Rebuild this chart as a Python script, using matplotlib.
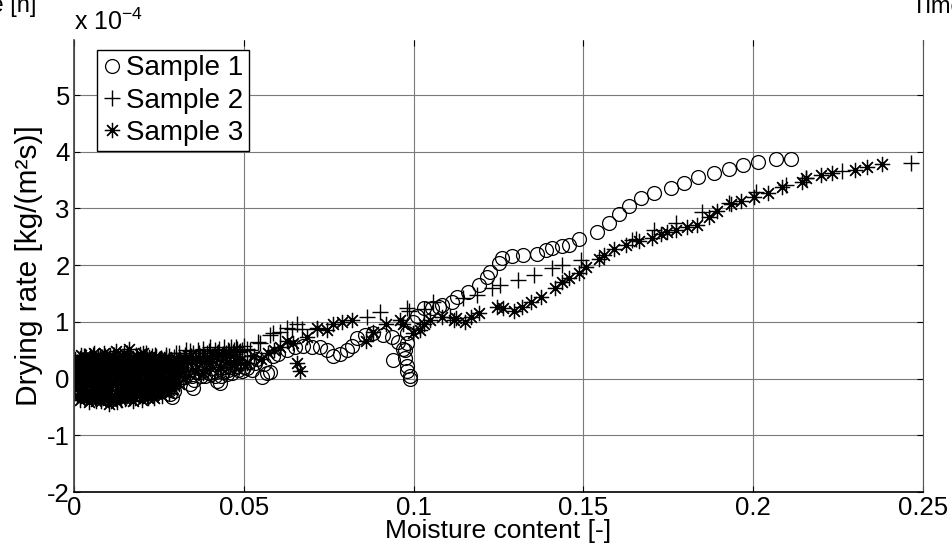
import matplotlib
matplotlib.use("Agg")
import matplotlib.pyplot as plt

plt.rcParams['font.family'] = ['Liberation Sans', 'DejaVu Sans']
plt.rcParams['mathtext.fontset'] = 'custom'
plt.rcParams['mathtext.rm'] = 'Liberation Sans'
plt.rcParams['mathtext.it'] = 'Liberation Sans'

# Drying rate values are in units of 1e-4 kg/(m^2 s); (moisture content, drying rate)
sample1 = [
    (0.0004, 0.10), (0.0010, -0.15), (0.0016, 0.25), (0.0022, -0.05), (0.0028, 0.18), (0.0034, -0.20),
    (0.0040, 0.05), (0.0046, 0.28), (0.0052, -0.12), (0.0058, 0.15), (0.0064, -0.25), (0.0070, 0.00),
    (0.0076, 0.22), (0.0082, -0.18), (0.0088, 0.10), (0.0094, -0.08), (0.0100, 0.30), (0.0106, -0.22),
    (0.0112, 0.05), (0.0118, 0.18), (0.0124, -0.15), (0.0130, 0.12), (0.0136, -0.05), (0.0142, 0.25),
    (0.0148, -0.20), (0.0154, 0.08), (0.0160, -0.10), (0.0166, 0.20), (0.0172, 0.02), (0.0178, -0.18),
    (0.0184, 0.15), (0.0190, -0.06), (0.0196, 0.22), (0.0202, -0.12), (0.0208, 0.06), (0.0214, 0.18),
    (0.0220, -0.08), (0.0226, 0.12), (0.0232, -0.15), (0.0238, 0.05), (0.0244, 0.20), (0.0250, -0.05),
    (0.0256, 0.10), (0.0262, -0.20), (0.0268, 0.15), (0.0275, -0.10), (0.0282, -0.28), (0.0288, -0.32),
    (0.0295, -0.22), (0.0302, 0.05), (0.0310, 0.15), (0.0318, 0.10), (0.0326, 0.20), (0.0334, 0.08),
    (0.0342, -0.10), (0.0350, -0.16), (0.0358, 0.12), (0.0366, 0.18), (0.0374, 0.05), (0.0382, 0.15),
    (0.0390, 0.22), (0.0398, 0.10), (0.0406, 0.18), (0.0414, 0.05), (0.0422, -0.05), (0.0430, -0.07),
    (0.0438, 0.12), (0.0446, 0.20), (0.0454, 0.15), (0.0462, 0.25), (0.0470, 0.18), (0.0478, 0.22),
    (0.0486, 0.28), (0.0494, 0.14), (0.0509, 0.19), (0.0532, 0.27), (0.0553, 0.02), (0.0568, 0.09),
    (0.0576, 0.11), (0.0600, 0.44), (0.0626, 0.50), (0.0650, 0.55), (0.0674, 0.58), (0.0700, 0.55),
    (0.0724, 0.55), (0.0744, 0.50), (0.0762, 0.39), (0.0782, 0.44), (0.0803, 0.50), (0.0818, 0.58),
    (0.0832, 0.71), (0.0856, 0.76), (0.0879, 0.81), (0.0909, 0.76), (0.0935, 0.73), (0.0938, 0.32),
    (0.0953, 0.64), (0.0968, 0.53), (0.0976, 0.50), (0.0974, 0.37), (0.0980, 0.23), (0.0982, 0.14),
    (0.0988, 0.04), (0.0988, 0.00), (0.0980, 0.62), (0.0982, 0.80), (0.0997, 0.99), (0.1009, 1.11),
    (0.1032, 1.24), (0.1053, 1.24), (0.1076, 1.26), (0.1085, 1.29), (0.1112, 1.35), (0.1129, 1.43),
    (0.1159, 1.52), (0.1194, 1.65), (0.1215, 1.79), (0.1224, 1.88), (0.1250, 2.04), (0.1259, 2.12),
    (0.1291, 2.16), (0.1321, 2.18), (0.1362, 2.19), (0.1391, 2.27), (0.1409, 2.30), (0.1438, 2.34),
    (0.1459, 2.35), (0.1488, 2.46), (0.1540, 2.58), (0.1576, 2.74), (0.1606, 2.90), (0.1635, 3.04),
    (0.1670, 3.19), (0.1709, 3.27), (0.1759, 3.36), (0.1797, 3.45), (0.1838, 3.56), (0.1885, 3.63),
    (0.1929, 3.70), (0.1971, 3.76), (0.2015, 3.82), (0.2068, 3.87), (0.2112, 3.88),
]
sample1_dense = [
    (0.0007, -0.25), (0.0013, 0.18), (0.0019, -0.08), (0.0025, 0.30), (0.0031, 0.00), (0.0037, -0.28),
    (0.0043, 0.15), (0.0049, -0.02), (0.0055, 0.25), (0.0061, -0.18), (0.0067, 0.10), (0.0073, -0.28),
    (0.0079, 0.05), (0.0085, 0.28), (0.0091, -0.20), (0.0097, 0.15), (0.0103, -0.02), (0.0109, 0.22),
    (0.0115, -0.28), (0.0121, 0.02), (0.0127, 0.25), (0.0133, -0.22), (0.0139, 0.15), (0.0145, -0.08),
    (0.0151, 0.28), (0.0157, -0.25), (0.0163, 0.12), (0.0169, -0.05), (0.0175, 0.25), (0.0181, -0.12),
    (0.0187, 0.08), (0.0193, -0.22), (0.0199, 0.18), (0.0205, 0.00), (0.0211, -0.18), (0.0217, 0.25),
    (0.0223, -0.12), (0.0229, 0.05), (0.0235, 0.22), (0.0241, -0.10), (0.0247, 0.12), (0.0253, -0.22),
    (0.0259, 0.18), (0.0265, 0.00), (0.0271, 0.10), (0.0278, 0.20), (0.0285, -0.05), (0.0298, 0.12),
    (0.0306, -0.05), (0.0314, 0.22), (0.0322, 0.02), (0.0330, 0.15), (0.0338, 0.25), (0.0346, 0.05),
    (0.0354, -0.02), (0.0362, 0.25), (0.0370, 0.12), (0.0378, 0.20), (0.0386, 0.05), (0.0394, 0.28),
    (0.0402, 0.08), (0.0410, 0.25), (0.0418, 0.12), (0.0426, 0.20), (0.0434, 0.05), (0.0442, 0.28),
    (0.0450, 0.08), (0.0458, 0.20), (0.0466, 0.10), (0.0474, 0.30), (0.0482, 0.15), (0.0490, 0.25),
    (0.0500, 0.20), (0.0515, 0.30), (0.0525, 0.15), (0.0540, 0.35), (0.0560, 0.25), (0.0585, 0.40),
    (0.0001, 0.00), (0.0009, 0.20), (0.0017, -0.20), (0.0026, 0.08), (0.0035, 0.22), (0.0044, -0.15),
    (0.0053, 0.05), (0.0062, 0.20), (0.0071, -0.12), (0.0080, 0.15), (0.0089, -0.25), (0.0098, 0.05),
    (0.0107, 0.25), (0.0116, -0.10), (0.0125, 0.10), (0.0134, 0.20), (0.0143, -0.18), (0.0152, 0.02),
    (0.0161, 0.22), (0.0170, -0.20), (0.0179, 0.10), (0.0188, 0.25), (0.0197, -0.15), (0.0206, 0.12),
    (0.0215, -0.02), (0.0224, 0.20), (0.0233, -0.20), (0.0242, 0.08), (0.0251, 0.18), (0.0260, -0.10),
    (0.0269, 0.05),
]

sample2 = [
    (0.0005, 0.20), (0.0012, 0.05), (0.0019, 0.35), (0.0026, -0.10), (0.0033, 0.25), (0.0040, 0.10),
    (0.0047, 0.40), (0.0054, 0.00), (0.0061, 0.30), (0.0068, 0.15), (0.0075, -0.05), (0.0082, 0.38),
    (0.0089, 0.20), (0.0096, 0.05), (0.0103, 0.32), (0.0110, 0.12), (0.0117, 0.42), (0.0124, 0.00),
    (0.0131, 0.28), (0.0138, 0.18), (0.0145, 0.36), (0.0152, 0.08), (0.0159, 0.25), (0.0166, 0.40),
    (0.0173, 0.12), (0.0180, 0.30), (0.0187, 0.20), (0.0194, 0.38), (0.0201, 0.05), (0.0208, 0.26),
    (0.0215, 0.34), (0.0222, 0.15), (0.0229, 0.40), (0.0236, 0.22), (0.0243, 0.30), (0.0250, 0.10),
    (0.0257, 0.36), (0.0264, 0.25), (0.0271, 0.42), (0.0278, 0.18), (0.0285, 0.32), (0.0292, 0.28),
    (0.0299, 0.45), (0.0306, 0.20), (0.0313, 0.35), (0.0320, 0.30), (0.0327, 0.42), (0.0334, 0.25),
    (0.0341, 0.48), (0.0348, 0.32), (0.0355, 0.38), (0.0362, 0.28), (0.0369, 0.45), (0.0376, 0.35),
    (0.0383, 0.40), (0.0390, 0.30), (0.0397, 0.48), (0.0404, 0.36), (0.0411, 0.42), (0.0418, 0.34),
    (0.0425, 0.46), (0.0432, 0.38), (0.0439, 0.44), (0.0446, 0.40), (0.0453, 0.50), (0.0460, 0.42),
    (0.0467, 0.46), (0.0474, 0.44), (0.0481, 0.52), (0.0488, 0.48), (0.0495, 0.50), (0.0509, 0.53),
    (0.0518, 0.50), (0.0541, 0.64), (0.0547, 0.62), (0.0576, 0.76), (0.0585, 0.80), (0.0606, 0.82),
    (0.0626, 0.90), (0.0641, 0.87), (0.0656, 0.97), (0.0670, 0.87), (0.0715, 0.88), (0.0862, 1.08),
    (0.0900, 1.17), (0.0980, 1.24), (0.0985, 1.20), (0.1030, 1.22), (0.1056, 1.35), (0.1106, 1.08),
    (0.1144, 1.42), (0.1188, 1.47), (0.1232, 1.59), (0.1253, 1.65), (0.1306, 1.73), (0.1356, 1.82),
    (0.1409, 1.95), (0.1438, 2.00), (0.1494, 2.09), (0.1644, 2.44), (0.1656, 2.46), (0.1709, 2.62),
    (0.1774, 2.74), (0.1850, 2.94), (0.1930, 3.10), (0.2009, 3.29), (0.2097, 3.42), (0.2156, 3.54),
    (0.2262, 3.66), (0.2465, 3.80),
]
sample2_dense = [
    (0.0008, 0.30), (0.0015, -0.05), (0.0022, 0.15), (0.0029, 0.40), (0.0036, 0.00), (0.0043, 0.28),
    (0.0050, 0.18), (0.0057, 0.42), (0.0064, 0.05), (0.0071, 0.32), (0.0078, 0.12), (0.0085, 0.25),
    (0.0092, 0.40), (0.0099, 0.15), (0.0106, 0.22), (0.0113, 0.02), (0.0120, 0.35), (0.0127, 0.20),
    (0.0134, 0.40), (0.0141, 0.10), (0.0148, 0.28), (0.0155, 0.45), (0.0162, 0.15), (0.0169, 0.32),
    (0.0176, 0.05), (0.0183, 0.42), (0.0190, 0.25), (0.0197, 0.15), (0.0204, 0.35), (0.0211, 0.45),
    (0.0218, 0.22), (0.0225, 0.30), (0.0232, 0.12), (0.0239, 0.42), (0.0246, 0.20), (0.0253, 0.35),
    (0.0260, 0.15), (0.0267, 0.32), (0.0274, 0.25), (0.0281, 0.40), (0.0288, 0.22), (0.0295, 0.38),
    (0.0302, 0.30), (0.0309, 0.45), (0.0316, 0.25), (0.0323, 0.36), (0.0330, 0.50), (0.0337, 0.30),
    (0.0344, 0.40), (0.0351, 0.45), (0.0358, 0.35), (0.0365, 0.50), (0.0372, 0.40), (0.0379, 0.52),
    (0.0386, 0.38), (0.0393, 0.45), (0.0400, 0.55), (0.0407, 0.40), (0.0414, 0.50), (0.0421, 0.45),
    (0.0428, 0.52), (0.0435, 0.42), (0.0442, 0.55), (0.0449, 0.45), (0.0456, 0.48), (0.0463, 0.55),
    (0.0470, 0.50), (0.0478, 0.56), (0.0486, 0.46), (0.0500, 0.58),
]

sample3 = [
    (0.0004, 0.35), (0.0008, -0.30), (0.0013, 0.05), (0.0017, -0.38), (0.0022, 0.28), (0.0026, -0.12),
    (0.0031, 0.40), (0.0035, -0.25), (0.0040, 0.10), (0.0044, -0.42), (0.0049, 0.22), (0.0053, -0.05),
    (0.0058, 0.45), (0.0062, -0.35), (0.0067, 0.15), (0.0071, -0.20), (0.0076, 0.38), (0.0080, -0.40),
    (0.0085, 0.02), (0.0089, 0.30), (0.0094, -0.28), (0.0098, 0.12), (0.0103, -0.44), (0.0107, 0.42),
    (0.0112, -0.10), (0.0116, 0.25), (0.0121, -0.33), (0.0125, 0.48), (0.0130, -0.18), (0.0134, 0.08),
    (0.0139, -0.38), (0.0143, 0.33), (0.0148, -0.02), (0.0152, 0.20), (0.0157, -0.30), (0.0161, 0.52),
    (0.0166, -0.22), (0.0170, 0.05), (0.0175, 0.36), (0.0179, -0.34), (0.0184, 0.14), (0.0188, -0.15),
    (0.0193, 0.44), (0.0197, -0.28), (0.0202, 0.26), (0.0206, -0.08), (0.0211, 0.38), (0.0215, -0.30),
    (0.0220, 0.10), (0.0224, 0.32), (0.0229, -0.20), (0.0233, 0.18), (0.0238, -0.26), (0.0242, 0.40),
    (0.0247, -0.05), (0.0251, 0.28), (0.0256, -0.22), (0.0260, 0.12), (0.0265, 0.35), (0.0269, -0.15),
    (0.0274, 0.22), (0.0278, -0.10), (0.0283, 0.30), (0.0287, -0.18), (0.0292, 0.15), (0.0296, 0.25),
    (0.0301, -0.05), (0.0305, 0.32), (0.0310, 0.08), (0.0315, 0.20), (0.0320, 0.30), (0.0330, 0.05),
    (0.0340, 0.38), (0.0355, 0.15), (0.0370, 0.35), (0.0380, 0.10), (0.0400, 0.28), (0.0410, 0.40),
    (0.0430, 0.20), (0.0450, 0.30), (0.0470, 0.25), (0.0490, 0.32), (0.0510, 0.28), (0.0530, 0.40),
    (0.0550, 0.35), (0.0570, 0.45), (0.0590, 0.50), (0.0606, 0.55), (0.0626, 0.67), (0.0644, 0.62),
    (0.0656, 0.28), (0.0665, 0.14), (0.0685, 0.73), (0.0715, 0.90), (0.0744, 0.85), (0.0762, 0.97),
    (0.0788, 0.99), (0.0820, 1.03), (0.0860, 0.67), (0.0880, 0.82), (0.0920, 0.97), (0.0959, 1.03),
    (0.0968, 0.97), (0.0997, 0.80), (0.1018, 0.85), (0.1032, 0.97), (0.1047, 1.03), (0.1085, 1.08),
    (0.1120, 1.03), (0.1126, 1.06), (0.1150, 0.99), (0.1170, 1.08), (0.1194, 1.15), (0.1247, 1.26),
    (0.1262, 1.24), (0.1297, 1.20), (0.1318, 1.26), (0.1347, 1.35), (0.1376, 1.43), (0.1415, 1.59),
    (0.1438, 1.70), (0.1459, 1.77), (0.1488, 1.86), (0.1509, 1.97), (0.1547, 2.10), (0.1562, 2.18),
    (0.1591, 2.28), (0.1626, 2.35), (0.1665, 2.42), (0.1703, 2.48), (0.1729, 2.55), (0.1747, 2.58),
    (0.1774, 2.62), (0.1806, 2.67), (0.1835, 2.71), (0.1870, 2.85), (0.1894, 2.96), (0.1935, 3.08),
    (0.1965, 3.13), (0.2003, 3.20), (0.2044, 3.27), (0.2085, 3.38), (0.2144, 3.47), (0.2156, 3.54),
    (0.2200, 3.59), (0.2232, 3.63), (0.2300, 3.68), (0.2335, 3.73), (0.2380, 3.79),
]
sample3_dense = [
    (0.0006, -0.05), (0.0011, 0.20), (0.0015, -0.22), (0.0020, 0.42), (0.0024, 0.00), (0.0029, -0.32),
    (0.0033, 0.18), (0.0038, -0.10), (0.0042, 0.30), (0.0047, -0.28), (0.0051, 0.38), (0.0056, -0.18),
    (0.0060, 0.08), (0.0065, -0.40), (0.0069, 0.30), (0.0074, -0.08), (0.0078, 0.20), (0.0083, -0.30),
    (0.0087, 0.45), (0.0092, -0.15), (0.0096, 0.35), (0.0101, -0.25), (0.0105, 0.02), (0.0110, -0.40),
    (0.0114, 0.38), (0.0119, 0.15), (0.0123, -0.05), (0.0128, -0.42), (0.0132, 0.30), (0.0137, 0.10),
    (0.0141, -0.25), (0.0146, 0.45), (0.0150, -0.36), (0.0155, 0.02), (0.0159, 0.32), (0.0164, -0.12),
    (0.0168, 0.25), (0.0173, -0.40), (0.0177, 0.18), (0.0182, -0.05), (0.0186, 0.40), (0.0191, -0.25),
    (0.0195, 0.05), (0.0200, -0.38), (0.0204, 0.45), (0.0209, -0.15), (0.0213, 0.15), (0.0218, -0.32),
    (0.0222, 0.38), (0.0227, -0.02), (0.0231, 0.25), (0.0236, -0.35), (0.0240, 0.05), (0.0245, -0.28),
    (0.0249, 0.35), (0.0254, 0.00), (0.0258, -0.30), (0.0263, 0.20), (0.0267, -0.20), (0.0272, 0.38),
    (0.0276, 0.00), (0.0281, -0.25), (0.0285, 0.28), (0.0290, 0.05), (0.0294, -0.12), (0.0299, 0.35),
    (0.0303, 0.12), (0.0308, -0.10), (0.0313, 0.28), (0.0318, 0.15),
    (0.0002, 0.12), (0.0009, -0.18), (0.0016, 0.32), (0.0021, -0.28), (0.0027, 0.10), (0.0034, -0.35),
    (0.0039, 0.25), (0.0045, 0.02), (0.0052, -0.30), (0.0057, 0.18), (0.0063, -0.12), (0.0070, 0.40),
    (0.0075, -0.32), (0.0081, 0.10), (0.0088, -0.20), (0.0093, 0.25), (0.0099, -0.38), (0.0106, 0.15),
    (0.0111, -0.05), (0.0117, 0.30), (0.0124, -0.25), (0.0129, 0.20), (0.0135, -0.30), (0.0142, 0.05),
    (0.0147, 0.38), (0.0153, -0.18), (0.0160, 0.10), (0.0165, -0.35), (0.0171, 0.28), (0.0178, 0.00),
    (0.0183, -0.28), (0.0189, 0.22), (0.0196, -0.10), (0.0201, 0.35), (0.0207, -0.22), (0.0214, 0.05),
    (0.0219, -0.35), (0.0225, 0.20), (0.0232, -0.12), (0.0237, 0.30), (0.0243, -0.20), (0.0250, 0.10),
    (0.0255, -0.12), (0.0261, 0.28), (0.0268, -0.05), (0.0273, 0.15), (0.0279, -0.20), (0.0286, 0.20),
    (0.0291, -0.08), (0.0297, 0.10),
]

labels = ['Sample 1', 'Sample 2', 'Sample 3']
x_ticks = [0, 0.05, 0.1, 0.15, 0.2, 0.25]
x_tick_labels = ['0', '0.05', '0.1', '0.15', '0.2', '0.25']
y_ticks = [-2, -1, 0, 1, 2, 3, 4, 5]
y_tick_labels = ['-2', '-1', '0', '1', '2', '3', '4', '5']

fig = plt.figure(figsize=(9.52, 5.51), dpi=100)
ax = fig.add_axes([74/952, 1-492/551, (923-74)/952, (492-40)/551])

ax.grid(True, color='#7a7a7a', linewidth=0.8, linestyle='-')
ax.set_axisbelow(True)

star = (8, 2, 0)
styles = [dict(marker='o', markersize=10, markerfacecolor='none', markeredgewidth=0.9),
          dict(marker='+', markersize=11, markeredgewidth=1.0),
          dict(marker=star, markersize=11, markeredgewidth=0.9)]
all_data = [sample1 + sample1_dense, sample2 + sample2_dense, sample3 + sample3_dense]
for data, lab, st in zip(all_data, labels, styles):
    xs = [p[0] for p in data]
    ys = [p[1] for p in data]
    ax.plot(xs, ys, linestyle='none', color='black', markeredgecolor='black', label=lab, **st)

ax.set_xlim(0, 0.25)
ax.set_ylim(-2, 5.97)
ax.set_xticks(x_ticks)
ax.set_xticklabels(x_tick_labels)
ax.set_yticks(y_ticks)
ax.set_yticklabels(y_tick_labels)
ax.tick_params(direction='in', length=4, width=0.8, labelsize=18.5, top=True, right=True, pad=3,
               colors='black')
ax.spines['top'].set_visible(False)
ax.spines['right'].set_color('#555555')
ax.spines['right'].set_linewidth(0.8)
ax.spines['left'].set_color('#404040')
ax.spines['left'].set_linewidth(1.2)
ax.spines['bottom'].set_linewidth(1.2)

ax.set_xlabel('Moisture content [-]', fontsize=19, labelpad=-1)
ax.set_ylabel('Drying rate [kg/(m²s)]', fontsize=21.5, labelpad=3)

ax.text(0.0, 1.01, r'x 10$^{-4}$', transform=ax.transAxes, fontsize=18, ha='left', va='bottom')

leg = ax.legend(loc='upper left', bbox_to_anchor=(0.027, 0.978), fontsize=20, frameon=True,
                fancybox=False, edgecolor='black', handlelength=0.7, handletextpad=0.15,
                borderpad=0.2, labelspacing=0.22, borderaxespad=0)
leg.get_frame().set_linewidth(1.0)
leg.get_frame().set_alpha(1)

fig.text(36/952, 1-12/551, 'Time [h]', ha='right', va='baseline', fontsize=17)
fig.text(912/952, 1-13/551, 'Time [h]', ha='left', va='baseline', fontsize=17)

fig.savefig('out.png', dpi=100)
